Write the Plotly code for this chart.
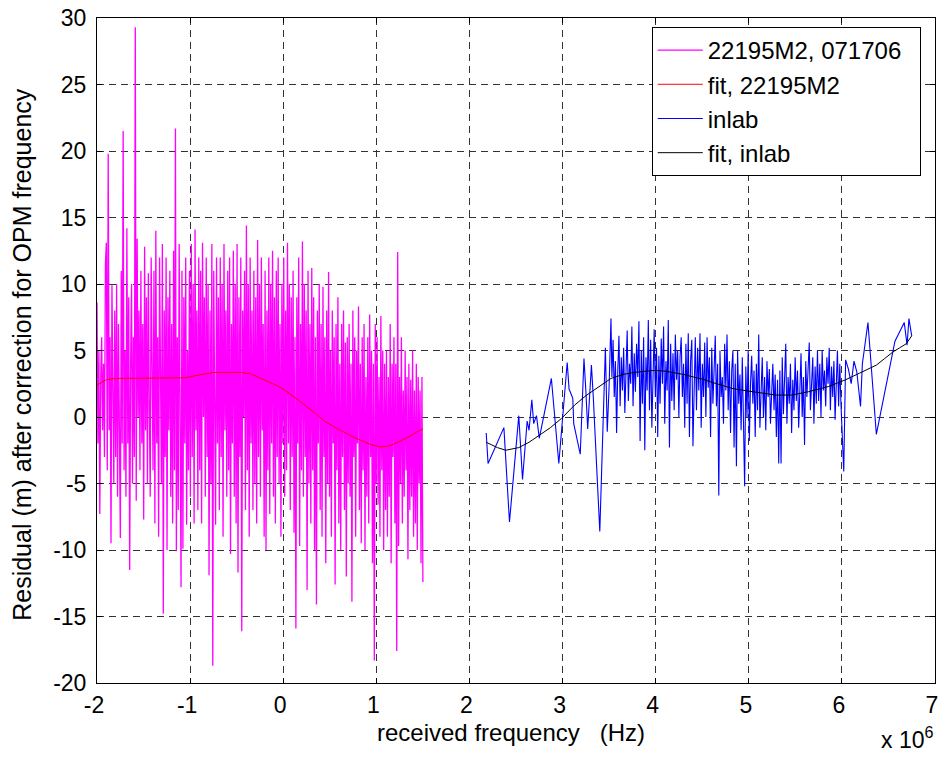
import numpy as np
import plotly.graph_objects as go

# ---------------- data (x in units of 10^6 Hz) ----------------
mag_x_start, mag_x_end = -2.0, 1.5
mag_y = [
    8.6, -2, 5, -7.3, 3, 6, -1, 4, -3, 11.5,
    13.1, -4, 19.8, -1, 6, -9.5, 9.9, 2, -5, 8,
    -3, 10, -6, 7, 1, -9.1, 11, -2, 21.5, -4,
    5, -6, 14.2, -2, 9, -11.5, 4, 10, -5, 6,
    -3, 29.3, -6.3, 13.4, 0, 8, -4, 11, -2, 7,
    -7.7, 12.8, -1, 9, -5, 10.8, 1, -6, 12, 2,
    -4, 11, -8, 14, -2, 6, -9, 12, 0, -5,
    13, -14.8, 8, -3, 12, -10, 9, -1, 11, -6,
    7, -8, 12.5, -4, 21.7, -10.1, 6, -7, 13, 0,
    -12.8, 11, -9.9, 9, -2, 12, -8.1, 5, -4, 11,
    -6, 13, -3, 10, -8, 14.1, -1, 8, -7, 12,
    -4, 11, -8, 13.1, 0, 9, -6, 12, -3, 10,
    -11.9, 8, -5, 13, -18.7, 11, 2, -8.1, 12, -2,
    9, -7, 12, -3, 10, -9, 13, -1, 8, -6,
    11, -4, 12, -10.3, 7, -2, 12.5, -6, 10, -8,
    13, -11.7, 9, -3, 12, -16.1, 8, 0, 11, -7,
    14.4, -4, 10, -9, 12, -2, 8, -7, 11, -5,
    9, -8, 13.3, -3, 10, -6, 12, -1, 7, -9,
    11, -10, 8, -4, 12, -7.3, 10, -2, 12.5, -6,
    9, -8, 11, -3, 12, -5, 7, -9, 10, -2,
    12, -6, 8, -4, 13.1, -2, 10, -7, 9, -3,
    11, -8.7, 6, -15.9, 9, -2, 12, -9.7, 7, -4,
    13.2, -6, 10, -3, 8, -13, 11, -5, 7, -8,
    11.2, -4, 9, -10, 6, -14.1, 8, -2, 10, -7,
    7, -9, 9.8, -3, 6, -11, 8, -5, 10.9, -6,
    5, -9, 8, -2, 6, -12.6, 7, -4, 9, -8,
    4, -10, 7, -3, 8, -7, 5.6, -12, 6, -5,
    7, -6, 4, -13.9, 8, -3, 6, -9, 5, -2,
    8.3, -7, 4, -9.5, 6, -4, 7, -10, 3, -6,
    6, -8, 7.7, -3, 5, -11, 4, -18.3, 7, -5,
    6, -6.6, 3, -9, 7.6, -4, 5, -10, 4, -7,
    5, -9, 3, -6, 7, -11, 4, -3, 6, -8,
    4, -17.6, 12.4, -9.7, 3, -5, 6, -8, 2, -6,
    5, -4, 3, -10.7, 4, -7, 2.8, -6, 5, -9,
    2, -8, 4, -10, 3, -5, 2, -11, 3, -12.4,
]

fit1_x = [-2.0, -1.95, -1.9, -1.8, -1.6, -1.4, -1.2, -1.05, -0.95, -0.85, -0.75,
          -0.6, -0.45, -0.35, -0.25, -0.15, -0.05, 0.05, 0.15, 0.25, 0.35, 0.45,
          0.55, 0.65, 0.75, 0.85, 0.95, 1.05, 1.12, 1.2, 1.28, 1.36, 1.43, 1.5]
fit1_y = [2.4, 2.6, 2.8, 2.9, 2.9, 2.9, 2.9, 2.95, 3.1, 3.25, 3.35,
          3.35, 3.35, 3.25, 2.95, 2.6, 2.3, 1.85, 1.35, 0.8, 0.25, -0.35,
          -0.75, -1.15, -1.5, -1.8, -2.1, -2.25, -2.2, -2.0, -1.75, -1.45, -1.15, -0.9]

# inlab: sparse start
lab_head_x = [2.18, 2.20, 2.37, 2.43, 2.53, 2.57, 2.62, 2.64, 2.67, 2.69, 2.72, 2.75,
              2.88, 2.92, 2.96, 3.05, 3.07, 3.11, 3.12, 3.19, 3.23, 3.25, 3.27, 3.31,
              3.33, 3.40, 3.44, 3.46, 3.48, 3.50, 3.52]
lab_head_y = [-1.2, -3.5, -0.8, -7.9, 0.1, -4.7, -0.3, -1.0, 1.3, -0.5, 0.1, -1.6,
              2.9, -0.3, -3.5, 4.1, 2.1, 1.4, -0.5, -2.8, 4.4, 2.0, -0.9, 3.9,
              1.5, -8.6, 0.0, 5.2, -1.1, 2.3, 7.4]
# inlab: dense middle (3.53 .. 5.99)
lab_mid_x_start, lab_mid_x_end = 3.53, 5.99
lab_mid_y = [
    3.0, 5.8, 1.5, 4.2, -1.2, 3.5, 6.1, 0.8,
    4.5, 2.0, 5.2, 0.3, 3.8, 6.5, 1.2, 4.0,
    2.5, 6.8, 0.8, 4.8, 1.9, 5.5, 3.0, 7.2,
    -1.8, 5.0, 1.0, 6.0, -2.5, 4.5, 2.0, 7.3,
    0.5, 5.8, -0.8, 4.0, 6.6, 1.5, 5.2, -1.5,
    4.6, 1.0, 5.9, 2.5, 6.8, -0.5, 4.2, 2.0,
    7.3, -2.3, 5.5, 1.2, 4.8, 0.5, 6.2, 2.8,
    5.0, 0.0, 4.5, 6.0, 1.5, 4.0, -0.8, 5.5,
    1.0, 6.3, -1.5, 4.2, 5.8, -2.2, 3.5, 6.0,
    0.5, 5.2, 2.0, 6.3, -0.8, 4.0, 1.5, 5.6,
    0.0, 6.0, 2.2, 4.5, -1.5, 5.2, 1.0, 3.8,
    6.1, 0.8, 4.0, -5.9, 5.0, 1.5, 3.0, -0.5,
    5.5, 2.0, 6.2, 0.5, 4.2, -1.2, 3.5, 5.0,
    -2.3, 4.0, -3.7, 5.0, 1.0, 3.2, -1.0, 4.5,
    0.5, -5.2, 3.8, 0.0, 5.0, -1.8, 2.5, 4.6,
    1.0, 3.5, -1.5, 4.0, 0.5, 6.2, -0.8, 2.8,
    4.5, 0.0, 3.0, -1.0, 4.2, 1.5, 3.6, -0.5,
    2.5, 4.0, 0.5, 3.2, -1.5, 2.8, -3.5, 3.5,
    -3.5, 4.5, 0.2, 2.5, 5.5, -0.5, 3.0, 1.0,
    4.0, -1.2, 2.8, 0.5, 4.5, 1.2, 3.5, -0.8,
    2.2, 4.8, 0.0, 3.0, -2.1, 4.2, 1.5, 3.6,
    5.6, 0.5, 2.5, 4.5, -0.5, 3.8, 1.0, 5.0,
    1.2, 4.0, 0.0, 5.0, 2.0, 3.5, 0.8, 4.5,
    2.5, 5.2, 0.5, 3.8, 1.5, 4.2, -0.2, 3.0,
    5.0, 0.8, 4.0, 1.0,
]
# inlab: sparse tail
lab_tail_x = [6.02, 6.04, 6.07, 6.10, 6.13, 6.16, 6.20, 6.22, 6.28, 6.37, 6.57,
              6.67, 6.70, 6.72, 6.75]
lab_tail_y = [-4.1, 4.3, 3.6, 2.5, 4.2, 3.4, 0.8, 4.0, 7.1, -1.3, 5.7,
              7.1, 5.4, 7.4, 6.1]

fit2_x = [2.18, 2.3, 2.39, 2.53, 2.64, 2.74, 2.87, 2.99, 3.13, 3.25, 3.35, 3.45,
          3.52, 3.65, 3.77, 3.9, 3.99, 4.1, 4.2, 4.3, 4.41, 4.5, 4.61, 4.72,
          4.82, 4.9, 5.0, 5.15, 5.29, 5.46, 5.55, 5.64, 5.75, 5.86, 5.95, 6.04,
          6.19, 6.28, 6.37, 6.46, 6.55, 6.62, 6.69, 6.75]
fit2_y = [-1.9, -2.3, -2.5, -2.3, -1.9, -1.4, -0.8, -0.1, 0.9, 1.6, 2.1, 2.6,
          2.9, 3.2, 3.35, 3.45, 3.5, 3.45, 3.35, 3.2, 3.0, 2.85, 2.6, 2.35,
          2.15, 2.05, 1.95, 1.8, 1.65, 1.65, 1.75, 1.9, 2.1, 2.3, 2.55, 2.8,
          3.3, 3.6, 3.9, 4.4, 4.9, 5.2, 5.5, 6.1]

x_ticks = [-2, -1, 0, 1, 2, 3, 4, 5, 6, 7]
y_ticks = [-20, -15, -10, -5, 0, 5, 10, 15, 20, 25, 30]

# ---------------- build ----------------
mag_x = np.linspace(mag_x_start, mag_x_end, len(mag_y))
lab_mid_x = np.linspace(lab_mid_x_start, lab_mid_x_end, len(lab_mid_y))
lab_x = list(lab_head_x) + list(lab_mid_x) + list(lab_tail_x)
lab_y = list(lab_head_y) + list(lab_mid_y) + list(lab_tail_y)

FONT = "Liberation Sans, Arial, sans-serif"

fig = go.Figure()
fig.add_trace(go.Scatter(x=mag_x, y=mag_y, mode="lines", name="22195M2, 071706\u00a0\u00a0",
                         line=dict(color="#FF00FF", width=1.3)))
fig.add_trace(go.Scatter(x=fit1_x, y=fit1_y, mode="lines", name="fit, 22195M2",
                         line=dict(color="#FF0000", width=1)))
fig.add_trace(go.Scatter(x=lab_x, y=lab_y, mode="lines", name="inlab",
                         line=dict(color="#0000FF", width=1.1)))
fig.add_trace(go.Scatter(x=fit2_x, y=fit2_y, mode="lines", name="fit, inlab",
                         line=dict(color="#000000", width=1)))

axis_common = dict(
    showline=True, linecolor="black", linewidth=1, mirror="ticks",
    ticks="inside", ticklen=5, tickcolor="black", automargin=False,
    showgrid=True, gridcolor="#333333", griddash="7px,5px", gridwidth=1,
    zeroline=False, tickfont=dict(family=FONT, size=23, color="black"),
)

fig.update_xaxes(range=[-2, 7], tickvals=x_ticks, ticktext=[str(v) for v in x_ticks],
                 ticklabeloverflow="allow", ticklabelshift=-3, ticklabelstandoff=1,
                 **axis_common)
fig.update_yaxes(range=[-20, 30], tickvals=y_ticks, ticktext=[str(v) for v in y_ticks],
                 ticklabeloverflow="allow", ticklabelstandoff=5, **axis_common)

fig.update_layout(
    width=939, height=757,
    margin=dict(l=97, r=4, t=18, b=74),
    paper_bgcolor="white", plot_bgcolor="white",
    font=dict(family=FONT, size=23, color="black"),
    showlegend=True,
    legend=dict(x=0.983, y=0.9865, xanchor="right", yanchor="top",
                bgcolor="white", bordercolor="black", borderwidth=1,
                font=dict(family=FONT, size=24, color="black"),
                itemwidth=45, tracegroupgap=0),
    annotations=[
        dict(text="received frequency\u00a0\u00a0\u00a0(Hz)", xref="paper", yref="paper",
             x=0.494, y=-0.075, xanchor="center", yanchor="middle", showarrow=False,
             font=dict(family=FONT, size=24, color="black")),
        dict(text="Residual (m) after correction for OPM frequency", xref="paper", yref="paper",
             x=-0.0895, y=0.495, xanchor="center", yanchor="middle", textangle=-90, showarrow=False,
             font=dict(family=FONT, size=25, color="black")),
        dict(text="x 10<sup>6</sup>", xref="paper", yref="paper",
             x=1.0, y=-0.108, xanchor="right", yanchor="bottom", showarrow=False,
             font=dict(family=FONT, size=23, color="black")),
    ],
)

fig.write_html("out.html", config={"displayModeBar": False},
               post_script="document.body.style.margin='0px';")
